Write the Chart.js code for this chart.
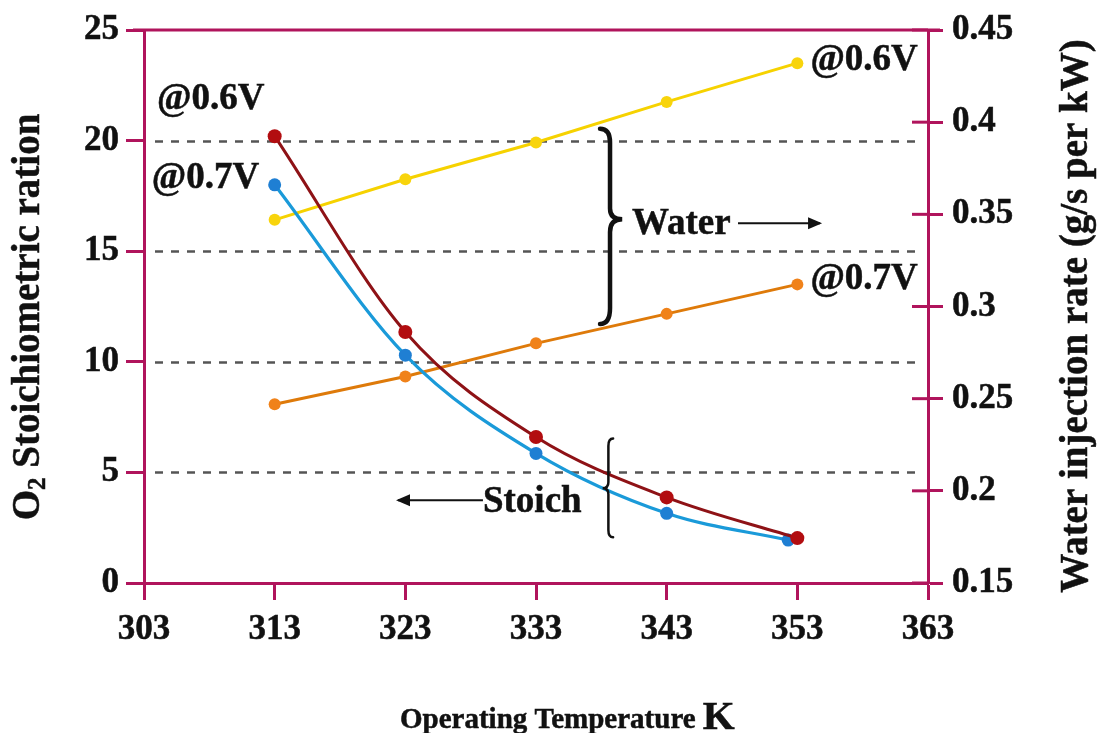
<!DOCTYPE html>
<html>
<head>
<meta charset="utf-8">
<script src="https://cdn.jsdelivr.net/npm/chart.js@4.4.1/dist/chart.umd.min.js"></script>
<style>
  html, body { margin: 0; padding: 0; background: #fff; }
  #wrap { width: 1101px; height: 733px; }
</style>
</head>
<body>
<div id="wrap"><canvas id="tempChart" width="1101" height="733"></canvas></div>
<script>
// operating temperature (K)
var temps = [313, 323, 333, 343, 353];
var tempsBlue = [313, 323, 333, 343, 352.3]; // last blue point sits a bit left
// O2 stoichiometric ratio (left axis)
var stoich06 = [20.2, 11.35, 6.6, 3.87, 2.03];
var stoich07 = [18.0, 10.3, 5.86, 3.15, 1.94];
// water injection rate g/s per kW (right axis)
var water06 = [0.347, 0.369, 0.389, 0.411, 0.432];
var water07 = [0.247, 0.262, 0.280, 0.296, 0.312];
// ticks
var xTicks = [303, 313, 323, 333, 343, 353, 363];
var leftTicks = [0, 5, 10, 15, 20, 25];
var rightTicks = [0.15, 0.2, 0.25, 0.3, 0.35, 0.4, 0.45];

var AXIS = '#b0145c';
var FONT = "'Liberation Serif', 'Times New Roman', serif";
var STROKE = 0.5;

function pts(xs, ys) {
  return ys.map(function (v, i) { return { x: xs[i], y: v }; });
}

// bold text with a thin outline so it looks as heavy as the original
function heavyText(ctx, txt, x, y) {
  ctx.fillText(txt, x, y);
  ctx.strokeText(txt, x, y);
}

// dashed reference lines, top border, titles, braces and labels
var decor = {
  id: 'decor',
  beforeDatasetsDraw: function (chart) {
    var ctx = chart.ctx, a = chart.chartArea, y = chart.scales.y;
    ctx.save();
    ctx.strokeStyle = '#555';
    ctx.lineWidth = 2.5;
    ctx.setLineDash([8, 8]);
    [5, 10, 15, 20].forEach(function (v) {
      var py = Math.round(y.getPixelForValue(v)) + 0.5;
      ctx.beginPath();
      ctx.moveTo(a.left + 11, py);
      ctx.lineTo(a.right - 8, py);
      ctx.stroke();
    });
    ctx.restore();
  },
  afterDraw: function (chart) {
    var ctx = chart.ctx, a = chart.chartArea;
    var sx = chart.scales.x, sy = chart.scales.y, sy1 = chart.scales.y1;
    var px = function (v) { return sx.getPixelForValue(v); };
    var py = function (v) { return sy.getPixelForValue(v); };
    ctx.save();
    // top border
    ctx.strokeStyle = AXIS;
    ctx.lineWidth = 3;
    ctx.beginPath();
    ctx.moveTo(a.left - 11, a.top);
    ctx.lineTo(a.right + 12, a.top);
    ctx.stroke();
    // right ticks crossing inward
    rightTicks.forEach(function (v) {
      var t = sy1.getPixelForValue(v);
      ctx.beginPath();
      ctx.moveTo(a.right - 16, t);
      ctx.lineTo(a.right, t);
      ctx.stroke();
    });

    ctx.fillStyle = '#111';
    ctx.strokeStyle = '#111';
    ctx.lineWidth = STROKE;
    ctx.textBaseline = 'alphabetic';
    ctx.font = 'bold 37px ' + FONT;
    ctx.textAlign = 'left';
    heavyText(ctx, '@0.6V', px(304.0), py(21.44));
    heavyText(ctx, '@0.7V', px(303.6), py(17.84));
    heavyText(ctx, '@0.6V', px(354.0), py(23.2));
    heavyText(ctx, '@0.7V', px(354.0), py(13.29));
    heavyText(ctx, 'Water', px(340.35), py(15.77));
    heavyText(ctx, 'Stoich', px(328.94), py(3.2));

    // arrows
    ctx.lineWidth = 2;
    function arrow(x0, x1, yy) {
      ctx.beginPath();
      ctx.moveTo(x0, yy);
      ctx.lineTo(x1, yy);
      ctx.stroke();
      var d = x1 > x0 ? 1 : -1;
      ctx.beginPath();
      ctx.moveTo(x1 + d * 2, yy);
      ctx.lineTo(x1 - d * 12, yy - 6);
      ctx.lineTo(x1 - d * 12, yy + 6);
      ctx.closePath();
      ctx.fill();
    }
    arrow(px(348.46), px(354.74), py(16.26));
    arrow(px(328.94), px(322.44), py(3.74));

    // braces
    function brace(xEdge, xTip, top, bottom, tipY, lw) {
      var w = xTip - xEdge, xm = xEdge + w * 0.45;
      ctx.lineWidth = lw;
      ctx.lineCap = 'round';
      ctx.beginPath();
      ctx.moveTo(xEdge, top);
      ctx.quadraticCurveTo(xm, top, xm, top + (tipY - top) * 0.15);
      ctx.lineTo(xm, tipY - (tipY - top) * 0.12);
      ctx.quadraticCurveTo(xm, tipY, xTip, tipY);
      ctx.quadraticCurveTo(xm, tipY, xm, tipY + (bottom - tipY) * 0.12);
      ctx.lineTo(xm, bottom - (bottom - tipY) * 0.15);
      ctx.quadraticCurveTo(xm, bottom, xEdge, bottom);
      ctx.stroke();
    }
    brace(px(337.9), px(339.6), py(20.54), py(11.71), py(16.44), 4.5);
    brace(px(338.9), px(338.1), py(6.53), py(2.07), py(4.28), 2.5);

    // axis titles
    ctx.lineWidth = STROKE;
    ctx.textBaseline = 'middle';
    // left title (bottom to top)
    ctx.save();
    ctx.translate(29, 317);
    ctx.rotate(-Math.PI / 2);
    ctx.font = 'bold 39px ' + FONT;
    var p1 = 'O', p3 = ' Stoichiometric ration';
    var w1 = ctx.measureText(p1).width, w3 = ctx.measureText(p3).width;
    ctx.font = 'bold 25px ' + FONT;
    var w2 = ctx.measureText('2').width;
    var total = w1 + w2 + w3, x0 = -total / 2;
    ctx.textAlign = 'left';
    ctx.font = 'bold 39px ' + FONT;
    heavyText(ctx, p1, x0, 0);
    ctx.font = 'bold 25px ' + FONT;
    heavyText(ctx, '2', x0 + w1, 10);
    ctx.font = 'bold 39px ' + FONT;
    heavyText(ctx, p3, x0 + w1 + w2, 0);
    ctx.restore();
    // right title (bottom to top)
    ctx.save();
    ctx.translate(1077, 316);
    ctx.rotate(-Math.PI / 2);
    ctx.font = 'bold 39px ' + FONT;
    ctx.textAlign = 'center';
    heavyText(ctx, 'Water injection rate (g/s per kW)', 0, 0);
    ctx.restore();
    // bottom title: small text followed by a larger unit
    ctx.textBaseline = 'alphabetic';
    ctx.textAlign = 'left';
    ctx.font = 'bold 29px ' + FONT;
    var tw = ctx.measureText('Operating Temperature ').width;
    heavyText(ctx, 'Operating Temperature', 400, 728);
    ctx.font = 'bold 41px ' + FONT;
    heavyText(ctx, 'K', 400 + tw, 729);
    ctx.restore();
  }
};

var tickFont = { family: FONT, size: 35, weight: 'bold' };

var ctx = document.getElementById('tempChart').getContext('2d');
var chart = new Chart(ctx, {
  type: 'scatter',
  data: {
    datasets: [
      {
        label: 'Stoich @0.6V',
        data: pts(temps, stoich06),
        yAxisID: 'y',
        showLine: true,
        cubicInterpolationMode: 'monotone',
        borderColor: '#8e1216',
        backgroundColor: '#b20d10',
        borderWidth: 3,
        pointRadius: 7,
        pointBorderWidth: 0,
        order: 1
      },
      {
        label: 'Stoich @0.7V',
        data: pts(tempsBlue, stoich07),
        yAxisID: 'y',
        showLine: true,
        cubicInterpolationMode: 'monotone',
        borderColor: '#1a9ad9',
        backgroundColor: '#1f7fd3',
        borderWidth: 3.2,
        pointRadius: 6.5,
        pointBorderWidth: 0,
        order: 2
      },
      {
        label: 'Water @0.7V',
        data: pts(temps, water07),
        yAxisID: 'y1',
        showLine: true,
        borderColor: '#de7a0a',
        backgroundColor: '#f0821a',
        borderWidth: 3,
        pointRadius: 6,
        pointBorderWidth: 0,
        order: 3
      },
      {
        label: 'Water @0.6V',
        data: pts(temps, water06),
        yAxisID: 'y1',
        showLine: true,
        borderColor: '#f6d200',
        backgroundColor: '#f8d40c',
        borderWidth: 3,
        pointRadius: 6,
        pointBorderWidth: 0,
        order: 4
      }
    ]
  },
  options: {
    responsive: false,
    animation: false,
    layout: { padding: { top: 28, left: 0, right: 0, bottom: 0 } },
    plugins: {
      legend: { display: false },
      tooltip: { enabled: false }
    },
    scales: {
      x: {
        type: 'linear',
        position: 'bottom',
        min: 303,
        max: 363,
        afterBuildTicks: function (s) { s.ticks = xTicks.map(function (v) { return { value: v }; }); },
        afterFit: function (s) { s.height = 150; },
        border: { color: AXIS, width: 3 },
        grid: { drawOnChartArea: false, color: AXIS, tickColor: AXIS, tickWidth: 3, tickLength: 17 },
        ticks: { color: '#111', padding: 9, maxRotation: 0, font: tickFont, textStrokeColor: '#111', textStrokeWidth: STROKE }
      },
      y: {
        type: 'linear',
        position: 'left',
        min: 0,
        max: 25,
        afterBuildTicks: function (s) { s.ticks = leftTicks.map(function (v) { return { value: v }; }); },
        afterFit: function (s) { s.width = 144; },
        border: { color: AXIS, width: 3 },
        grid: { drawOnChartArea: false, color: AXIS, tickColor: AXIS, tickWidth: 3, tickLength: 18 },
        ticks: { color: '#111', padding: 7, font: tickFont, textStrokeColor: '#111', textStrokeWidth: STROKE }
      },
      y1: {
        type: 'linear',
        position: 'right',
        min: 0.15,
        max: 0.45,
        afterBuildTicks: function (s) { s.ticks = rightTicks.map(function (v) { return { value: v }; }); },
        afterFit: function (s) { s.width = 173; },
        border: { color: AXIS, width: 3 },
        grid: { drawOnChartArea: false, color: AXIS, tickColor: AXIS, tickWidth: 3, tickLength: 15 },
        ticks: {
          color: '#111', padding: 9, font: tickFont, textStrokeColor: '#111', textStrokeWidth: STROKE,
          callback: function (v) { return String(Math.round(v * 100) / 100); }
        }
      }
    }
  },
  plugins: [decor]
});
</script>
</body>
</html>
